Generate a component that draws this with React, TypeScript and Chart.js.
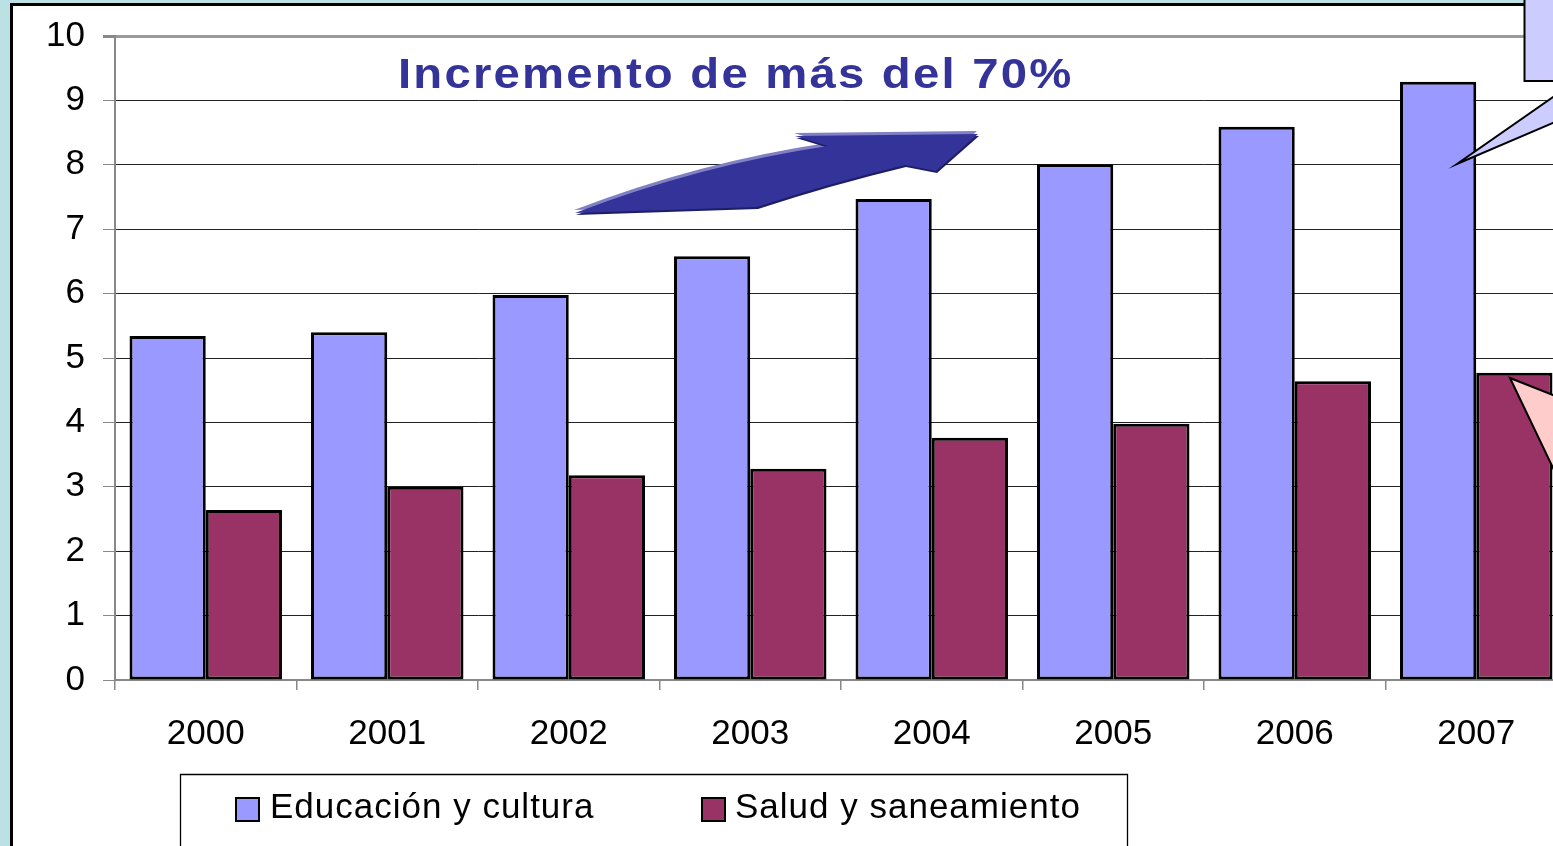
import React, { useEffect, useRef } from 'react';
import { Chart, registerables } from 'chart.js';

Chart.register(...registerables);

const years = ['2000', '2001', '2002', '2003', '2004', '2005', '2006', '2007'];
const educacion = [5.34, 5.4, 5.98, 6.58, 7.47, 8.01, 8.59, 9.29];
const salud = [2.64, 3.0, 3.18, 3.28, 3.76, 3.98, 4.64, 4.77];
const seriesLabels = ['Educación y cultura', 'Salud y saneamiento'];
const seriesColors = ['#9999FF', '#993366'];
const yMin = 0;
const yMax = 10;
const yStep = 1;
const titleText = 'Incremento de más del 70%';

const FONT = '"Liberation Sans", Arial, sans-serif';

const decor = {
  id: 'decor',
  beforeDraw(chart: any) {
    const ctx = chart.ctx;
    ctx.save();
    ctx.fillStyle = '#BCE1E5';
    ctx.fillRect(0, 0, chart.width, chart.height);
    ctx.fillStyle = '#FFFFFF';
    ctx.fillRect(11, 4, chart.width, chart.height);
    ctx.strokeStyle = '#000';
    ctx.lineWidth = 3;
    ctx.beginPath();
    ctx.moveTo(11.5, chart.height + 5);
    ctx.lineTo(11.5, 4.5);
    ctx.lineTo(chart.width + 5, 4.5);
    ctx.stroke();
    ctx.restore();
  },
  afterDraw(chart: any) {
    const ctx = chart.ctx;
    ctx.save();

    // arrow
    const arrow = (dx: number, dy: number, color: string) => {
      ctx.save();
      ctx.translate(dx, dy);
      ctx.beginPath();
      ctx.moveTo(575, 213);
      ctx.lineTo(757, 207);
      ctx.quadraticCurveTo(830, 183, 905, 165);
      ctx.lineTo(936, 171);
      ctx.lineTo(978, 134);
      ctx.lineTo(795, 136);
      ctx.lineTo(828, 146);
      ctx.quadraticCurveTo(700, 165, 575, 213);
      ctx.closePath();
      ctx.fillStyle = color;
      ctx.fill();
      ctx.restore();
    };
    arrow(-1, -3, '#8080C4');
    arrow(1, 2, '#1E1E66');
    arrow(0, 0, '#333399');

    // title
    ctx.save();
    ctx.fillStyle = '#333399';
    ctx.font = 'bold 43px ' + FONT;
    ctx.textBaseline = 'alphabetic';
    ctx.textAlign = 'left';
    (ctx as any).letterSpacing = '2px';
    ctx.translate(398, 88);
    ctx.scale(1.1, 1);
    ctx.fillText(titleText, 0, 0);
    ctx.restore();

    // blue callout
    ctx.beginPath();
    ctx.moveTo(1524.5, -5);
    ctx.lineTo(1524.5, 81);
    ctx.lineTo(1576, 81);
    ctx.lineTo(1457, 164);
    ctx.lineTo(1651, 81);
    ctx.lineTo(1700, 81);
    ctx.lineTo(1700, -5);
    ctx.closePath();
    ctx.fillStyle = '#CCCCFF';
    ctx.fill();
    ctx.strokeStyle = '#000';
    ctx.lineWidth = 2;
    ctx.stroke();

    // pink callout
    ctx.beginPath();
    ctx.moveTo(1510, 378);
    ctx.lineTo(1620, 421.5);
    ctx.lineTo(1620, 608);
    ctx.closePath();
    ctx.fillStyle = '#FFCCCC';
    ctx.fill();
    ctx.strokeStyle = '#000';
    ctx.lineWidth = 2;
    ctx.stroke();

    // legend
    ctx.strokeStyle = '#000';
    ctx.lineWidth = 1.3;
    ctx.beginPath();
    ctx.moveTo(180.5, chart.height + 5);
    ctx.lineTo(180.5, 774.5);
    ctx.lineTo(1127.5, 774.5);
    ctx.lineTo(1127.5, chart.height + 5);
    ctx.stroke();

    const swatchX = [236, 702];
    const textX = [270, 735];
    ctx.font = '35px ' + FONT;
    ctx.textAlign = 'left';
    ctx.textBaseline = 'alphabetic';
    (ctx as any).letterSpacing = '1px';
    chart.data.datasets.forEach((ds: any, i: number) => {
      ctx.fillStyle = ds.backgroundColor;
      ctx.fillRect(swatchX[i], 798, 23, 23);
      ctx.lineWidth = 2;
      ctx.strokeStyle = '#000';
      ctx.strokeRect(swatchX[i], 798, 23, 23);
      ctx.fillStyle = '#000';
      ctx.fillText(ds.label, textX[i], 818);
    });
    (ctx as any).letterSpacing = '0px';
    ctx.restore();
  },
};

export default function App() {
  const ref = useRef<HTMLCanvasElement | null>(null);
  useEffect(() => {
    const canvas = ref.current;
    if (!canvas) return;
    const chart = new Chart(canvas, {
      type: 'bar',
      data: {
        labels: years,
        datasets: [
          {
            label: seriesLabels[0],
            data: educacion,
            backgroundColor: seriesColors[0],
            borderColor: '#000',
            borderWidth: 3,
            borderSkipped: false,
          },
          {
            label: seriesLabels[1],
            data: salud,
            backgroundColor: seriesColors[1],
            borderColor: '#000',
            borderWidth: 3,
            borderSkipped: false,
          },
        ],
      },
      options: {
        responsive: false,
        animation: false,
        devicePixelRatio: 1,
        layout: { padding: { left: 0, top: 36, right: 53, bottom: 0 } },
        datasets: { bar: { categoryPercentage: 0.84, barPercentage: 1.0 } },
        plugins: {
          legend: { display: false },
          title: { display: false },
          tooltip: { enabled: false },
        },
        scales: {
          x: {
            afterFit: (s: any) => {
              s.height = 166;
              s.paddingLeft = 0;
              s.paddingRight = 0;
            },
            grid: {
              drawOnChartArea: false,
              offset: true,
              tickLength: 10,
              color: '#888',
              lineWidth: 1.5,
            },
            border: { color: '#888', width: 2 },
            ticks: {
              color: '#000',
              font: { family: FONT, size: 35 },
              padding: 23,
              maxRotation: 0,
            },
          },
          y: {
            min: yMin,
            max: yMax,
            afterFit: (s: any) => {
              s.width = 115;
              s.paddingTop = 0;
              s.paddingBottom = 0;
            },
            grid: {
              color: (c: any) => (c.tick && c.tick.value === yMax ? '#9A9A9A' : '#222'),
              lineWidth: (c: any) => (c.tick && c.tick.value === yMax ? 3 : 1),
              tickColor: '#888',
              tickLength: 12,
            },
            border: { color: '#888', width: 2 },
            ticks: {
              stepSize: yStep,
              color: '#000',
              font: { family: FONT, size: 35 },
              padding: 18,
            },
          },
        },
      },
      plugins: [decor],
    } as any);
    return () => chart.destroy();
  }, []);

  return (
    <div
      style={{
        position: 'fixed',
        left: 0,
        top: 0,
        width: 1553,
        height: 846,
        overflow: 'hidden',
        background: '#BCE1E5',
      }}
    >
      <canvas ref={ref} width={1620} height={846} style={{ width: 1620, height: 846, display: 'block' }} />
    </div>
  );
}
